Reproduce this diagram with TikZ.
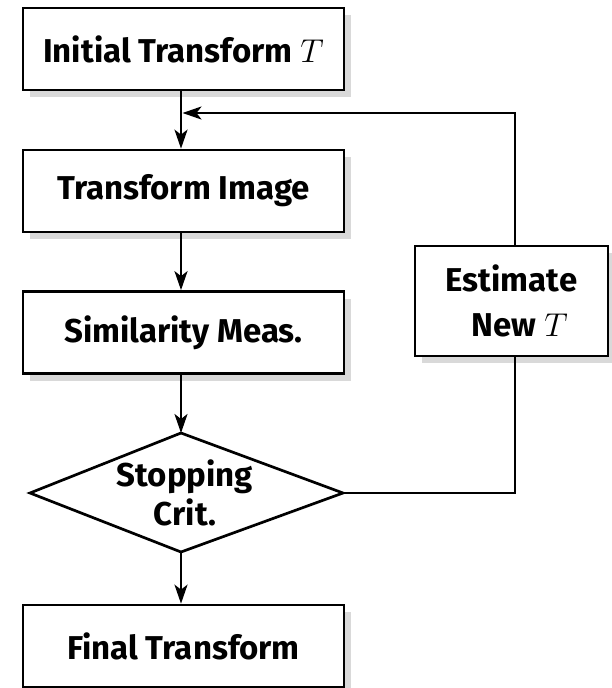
\documentclass[tikz,border=0pt]{standalone}
\usepackage{fix-cm}
\usepackage{fontspec}
\setmainfont[Ligatures=NoCommon]{Fira Sans}
\usetikzlibrary{arrows.meta,calc,shadows}
\tikzset{
  every picture/.style={x=1pt,y=-1pt},
  txt/.style={font=\fontsize{33}{38}\selectfont\bfseries},
  box/.style={txt, draw=black, line width=2.7pt, fill=white, rectangle,
    minimum width=321pt, minimum height=82pt, inner sep=0pt,
    drop shadow={shadow xshift=7pt, shadow yshift=-7pt, fill=black!15, opacity=1}},
  lbl/.style={txt, align=center, inner sep=0pt},
  conn/.style={line width=2.5pt},
  arr/.style={conn, -{Stealth[length=19pt, width=13pt, inset=5pt]}},
}
\begin{document}
\begin{tikzpicture}
  \useasboundingbox (0,0) rectangle (611,688);

  % main column of steps
  \coordinate (col) at (181,0);
  \node[box] (init)  at (183.5,49)  {Initial Transform $T$};
  \node[box] (xform) at (183.5,191) {Transform Image};
  \node[box] (sim)   at (183.5,332.5) {Similarity Meas.};
  \node[box] (final) at (183.5,646) {Final Transform};

  % side step
  \node[box, minimum width=193pt, minimum height=110pt, align=center,
        font=\fontsize{33}{45}\selectfont\bfseries] (est) at (511.5,301)
        {Estimate\\ \hspace*{0.5em}New $T$};

  % decision diamond
  \coordinate (ct) at (181,433);
  \coordinate (cl) at (30,493);
  \coordinate (cr) at (343,493);
  \coordinate (cb) at (181,552);
  \draw[line width=2.7pt, line join=miter] (ct) -- (cr) -- (cb) -- (cl) -- cycle;
  \node[lbl, font=\fontsize{33}{39}\selectfont\bfseries] (crit) at (185,493) {Stopping\\Crit.};

  % connectors
  \coordinate (join) at (182.5,113);
  \coordinate (estx) at (515,0);
  \draw[arr] (init.south -| col) -- (xform.north -| col);
  \draw[arr] (xform.south -| col) -- (sim.north -| col);
  \draw[arr] (sim.south -| col) -- (ct);
  \draw[arr] (cb) -- (final.north -| col);
  \draw[conn] (cr) -| (est.south -| estx);
  \draw[arr] (est.north -| estx) |- (join);
\end{tikzpicture}
\end{document}
